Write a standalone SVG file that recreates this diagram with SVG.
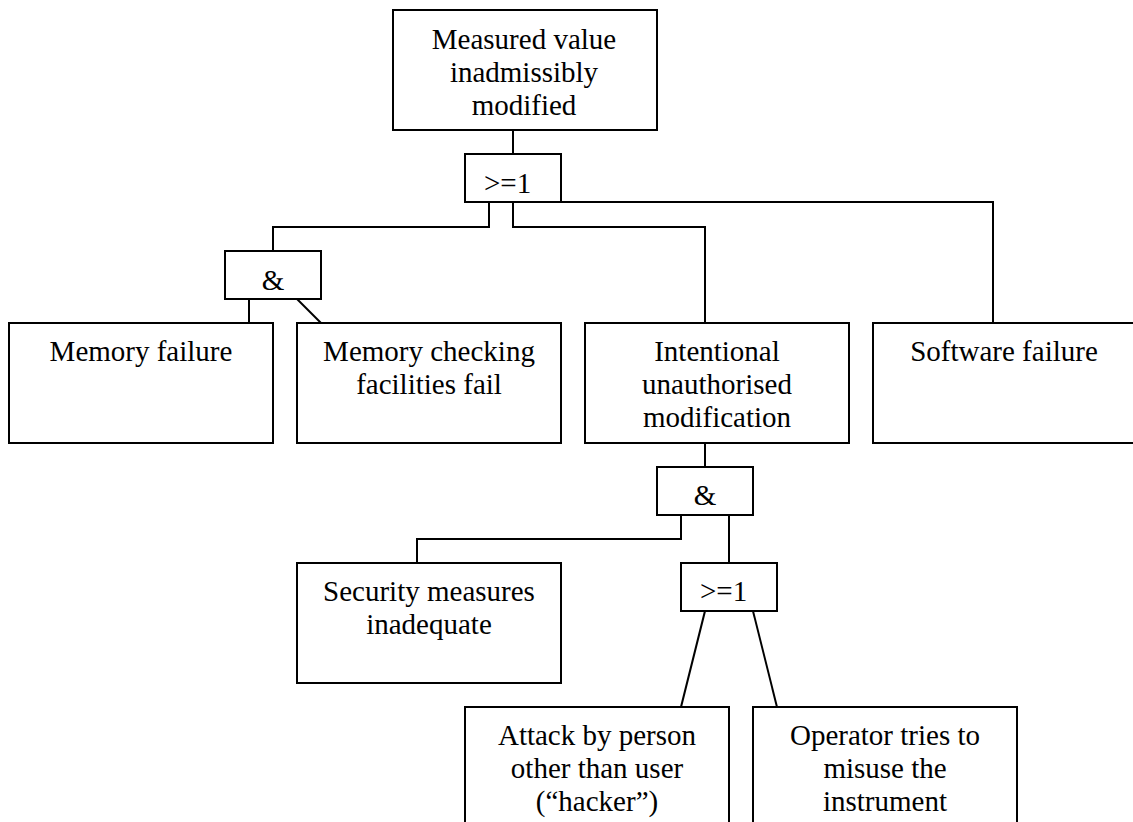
<svg xmlns="http://www.w3.org/2000/svg" width="1133" height="822" viewBox="0 0 1133 822">
  <style>
    .box { fill: #ffffff; stroke: #000000; stroke-width: 2; }
    .wire { fill: none; stroke: #000000; stroke-width: 2; }
    text { font-family: "Liberation Serif", "Times New Roman", serif; font-size: 29px; fill: #000000; }
    .c { text-anchor: middle; }
  </style>
  <rect width="1133" height="822" fill="#ffffff"/>

  <!-- connectors -->
  <g id="connectors">
    <path class="wire" d="M513 130 V154"/>
    <path class="wire" d="M489 202 V227 H273 V251"/>
    <path class="wire" d="M513 202 V227 H705 V323"/>
    <path class="wire" d="M561 202 H993 V323"/>
    <path class="wire" d="M249 299 V323"/>
    <path class="wire" d="M297 299 L321 323"/>
    <path class="wire" d="M705 443 V467"/>
    <path class="wire" d="M681 515 V539 H417 V563"/>
    <path class="wire" d="M729 515 V563"/>
    <path class="wire" d="M705 611 L681 707"/>
    <path class="wire" d="M753 611 L777 707"/>
  </g>

  <!-- top event -->
  <g id="top-event">
    <rect class="box" x="393" y="10" width="264" height="120"/>
    <text class="c" x="524" y="49">Measured value</text>
    <text class="c" x="524" y="82">inadmissibly</text>
    <text class="c" x="524" y="115">modified</text>
  </g>

  <!-- OR gate under top event -->
  <g id="gate-or-1">
    <rect class="box" x="465" y="154" width="96" height="48"/>
    <text x="484" y="193">&gt;=1</text>
  </g>

  <!-- AND gate for memory branch -->
  <g id="gate-and-1">
    <rect class="box" x="225" y="251" width="96" height="48"/>
    <text class="c" x="273" y="290">&amp;</text>
  </g>

  <g id="memory-failure">
    <rect class="box" x="9" y="323" width="264" height="120"/>
    <text class="c" x="141" y="361">Memory failure</text>
  </g>

  <g id="memory-checking">
    <rect class="box" x="297" y="323" width="264" height="120"/>
    <text class="c" x="429" y="361">Memory checking</text>
    <text class="c" x="429" y="394">facilities fail</text>
  </g>

  <g id="intentional-modification">
    <rect class="box" x="585" y="323" width="264" height="120"/>
    <text class="c" x="717" y="361">Intentional</text>
    <text class="c" x="717" y="394">unauthorised</text>
    <text class="c" x="717" y="427">modification</text>
  </g>

  <g id="software-failure">
    <rect class="box" x="873" y="323" width="264" height="120"/>
    <text class="c" x="1004" y="361">Software failure</text>
  </g>

  <!-- AND gate under intentional modification -->
  <g id="gate-and-2">
    <rect class="box" x="657" y="467" width="96" height="48"/>
    <text class="c" x="705" y="505">&amp;</text>
  </g>

  <g id="security-inadequate">
    <rect class="box" x="297" y="563" width="264" height="120"/>
    <text class="c" x="429" y="601">Security measures</text>
    <text class="c" x="429" y="634">inadequate</text>
  </g>

  <!-- OR gate for attack sources -->
  <g id="gate-or-2">
    <rect class="box" x="681" y="563" width="96" height="48"/>
    <text x="700" y="601">&gt;=1</text>
  </g>

  <g id="attack-hacker">
    <rect class="box" x="465" y="707" width="264" height="130"/>
    <text class="c" x="597" y="745">Attack by person</text>
    <text class="c" x="597" y="778">other than user</text>
    <text class="c" x="597" y="811">(“hacker”)</text>
  </g>

  <g id="operator-misuse">
    <rect class="box" x="753" y="707" width="264" height="130"/>
    <text class="c" x="885" y="745">Operator tries to</text>
    <text class="c" x="885" y="778">misuse the</text>
    <text class="c" x="885" y="811">instrument</text>
  </g>
</svg>
